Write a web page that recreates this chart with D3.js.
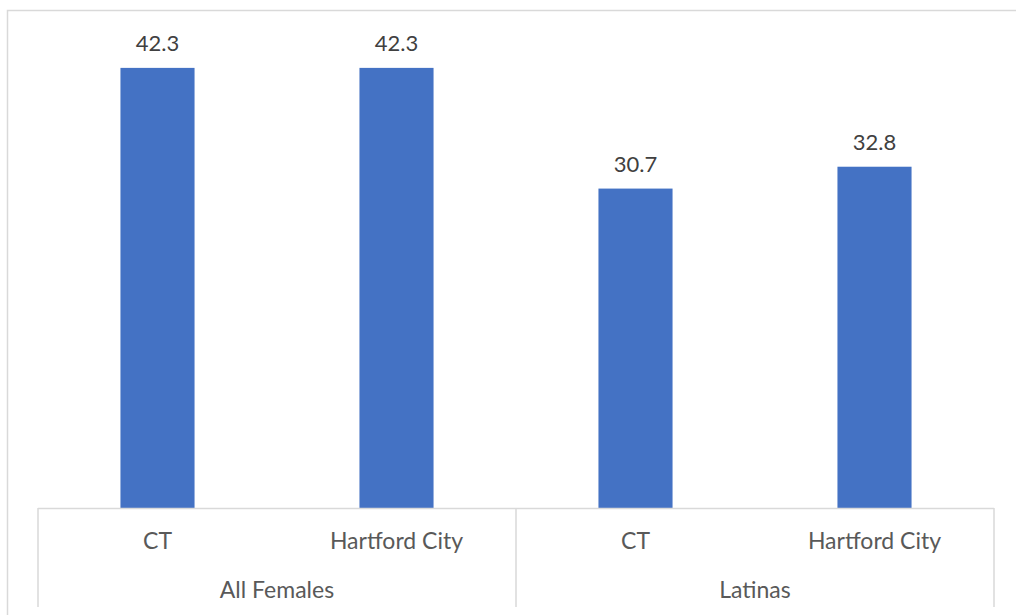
<!DOCTYPE html>
<html>
<head>
<meta charset="utf-8">
<script src="https://cdn.jsdelivr.net/npm/d3@7"></script>
<style>
  html, body { margin: 0; padding: 0; background: #fff; }
  svg { display: block; }
  text { font-family: Lato, "Open Sans", sans-serif; }
</style>
</head>
<body>
<svg id="chart" width="1016" height="615"></svg>
<script>
// Grouped categories (outer group, inner place) and their values
const groups = ["All Females", "Latinas"];
const places = ["CT", "Hartford City", "CT", "Hartford City"];
const placeGroup = ["All Females", "All Females", "Latinas", "Latinas"];
const values = [42.3, 42.3, 30.7, 32.8];

const W = 1016, H = 615;
const plot = { left: 38, right: 994, top: 10, bottom: 508 };

const svg = d3.select("#chart");

// chart area frame (top and left edges visible)
svg.append("path")
  .attr("d", `M7.5,${H} V10.5 H${W}`)
  .attr("fill", "none")
  .attr("stroke", "#d9d9d9")
  .attr("stroke-width", 1.5);

const keys = values.map((v, i) => i);
const x = d3.scaleBand()
  .domain(keys)
  .range([plot.left, plot.right])
  .paddingInner(0.69)
  .paddingOuter(0.345);

const y = d3.scaleLinear()
  .domain([0, 43.25])
  .range([plot.bottom, 58]);

// bars
svg.append("g").selectAll("rect")
  .data(values)
  .join("rect")
  .attr("x", (d, i) => x(i))
  .attr("width", x.bandwidth())
  .attr("y", d => y(d))
  .attr("height", d => y(0) - y(d))
  .attr("fill", "#4472c4");

// value labels
svg.append("g").selectAll("text")
  .data(values)
  .join("text")
  .attr("x", (d, i) => x(i) + x.bandwidth() / 2)
  .attr("y", d => y(d) - 17)
  .attr("text-anchor", "middle")
  .attr("font-size", 22)
  .attr("fill", "#404040")
  .text(d => d.toFixed(1));

// multi-level category axis
const step = x.step();
const axis = svg.append("g");
axis.append("line")
  .attr("x1", plot.left).attr("x2", plot.right)
  .attr("y1", plot.bottom + 0.5).attr("y2", plot.bottom + 0.5)
  .attr("stroke", "#d9d9d9").attr("stroke-width", 1.5);

// group dividers
const groupBounds = groups.map(g => {
  const idx = keys.filter(i => placeGroup[i] === g);
  const x0 = x(idx[0]) - x.paddingInner() * step / 2;
  const x1 = x(idx[idx.length - 1]) + x.bandwidth() + x.paddingInner() * step / 2;
  return { g, x0, x1 };
});
const dividers = [plot.left, ...groupBounds.slice(0, -1).map(b => b.x1), plot.right];
axis.selectAll("line.div")
  .data(dividers)
  .join("line")
  .attr("class", "div")
  .attr("x1", d => d).attr("x2", d => d)
  .attr("y1", plot.bottom).attr("y2", 607)
  .attr("stroke", "#d9d9d9").attr("stroke-width", 1.5);

// inner labels
axis.selectAll("text.place")
  .data(places)
  .join("text")
  .attr("class", "place")
  .attr("x", (d, i) => x(i) + x.bandwidth() / 2)
  .attr("y", 549)
  .attr("text-anchor", "middle")
  .attr("font-size", 23)
  .attr("fill", "#595959")
  .text(d => d);

// outer group labels
axis.selectAll("text.group")
  .data(groupBounds)
  .join("text")
  .attr("class", "group")
  .attr("x", d => (d.x0 + d.x1) / 2)
  .attr("y", 598)
  .attr("text-anchor", "middle")
  .attr("font-size", 23)
  .attr("fill", "#595959")
  .text(d => d.g);
</script>
</body>
</html>
